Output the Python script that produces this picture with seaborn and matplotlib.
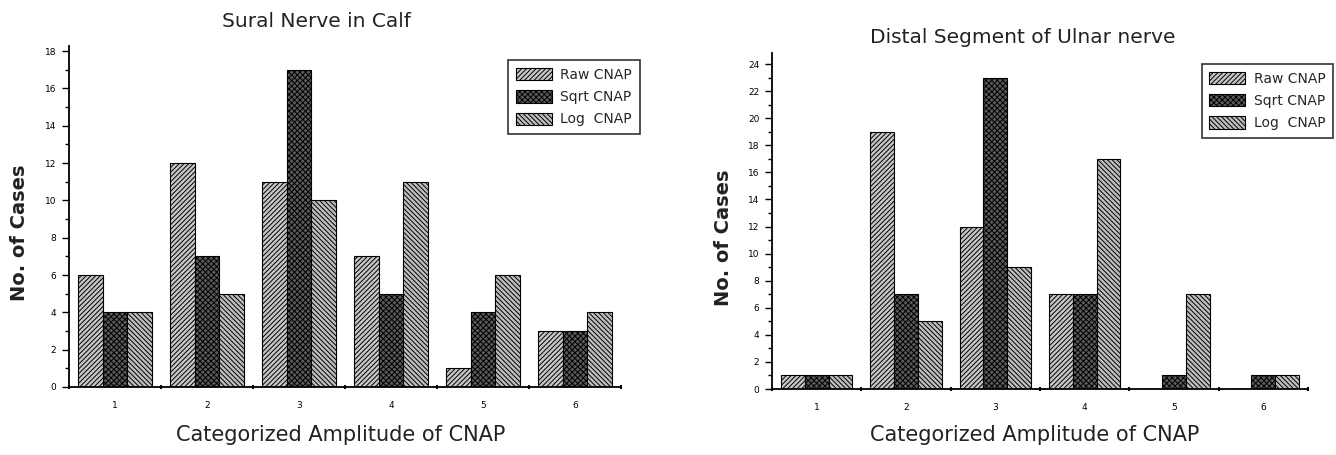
import numpy as np
import pandas as pd
import matplotlib
matplotlib.use("Agg")
import matplotlib.pyplot as plt
import seaborn as sns
from matplotlib.patches import Patch
from matplotlib.ticker import MultipleLocator, FixedLocator

# ---- data ----
categories = ["1", "2", "3", "4", "5", "6"]
series = ["Raw CNAP", "Sqrt CNAP", "Log  CNAP"]

sural_raw = [6, 12, 11, 7, 1, 3]
sural_sqrt = [4, 7, 17, 5, 4, 3]
sural_log = [4, 5, 10, 11, 6, 4]

ulnar_raw = [1, 19, 12, 7, 0, 0]
ulnar_sqrt = [1, 7, 23, 7, 1, 1]
ulnar_log = [1, 5, 9, 17, 7, 1]

titles = ["Sural Nerve in Calf", "Distal Segment of Ulnar nerve"]
xlabel = "Categorized Amplitude of CNAP"
ylabel = "No. of Cases"

# ---- style ----
sns.set_theme(style="ticks")
plt.rcParams['font.family'] = ['DejaVu Sans']
plt.rcParams['hatch.linewidth'] = 0.7
plt.rcParams['axes.edgecolor'] = 'black'
plt.rcParams['xtick.color'] = 'black'
plt.rcParams['ytick.color'] = 'black'

faces = ['#c6c6c6', '#5a5a5a', '#bebebe']
hatches = ['///////', 'xxxxxx', '\\\\\\\\\\\\\\']

fig = plt.figure(figsize=(13.36, 4.55), dpi=100)
ax1 = fig.add_axes([0.0516, 0.1495, 0.4132, 0.7505])
ax2 = fig.add_axes([0.5778, 0.145, 0.4012, 0.738])


def draw(ax, raw, sqrt, log, title, ytop, ymax, title_xy, xlab_xy, ylab_xy, leg_anchor):
    df = pd.DataFrame({
        "cat": categories * 3,
        "series": np.repeat(series, len(categories)),
        "n": raw + sqrt + log,
    })
    sns.barplot(data=df, x="cat", y="n", hue="series", order=categories,
                hue_order=series, palette=faces, saturation=1, ax=ax,
                edgecolor='black', linewidth=0.8, width=0.8, legend=False)
    for cont, h in zip(ax.containers, hatches):
        for p in cont:
            p.set_hatch(h)
    ax.set_xlim(-0.5, len(categories) - 0.5)
    ax.set_ylim(0, ymax)
    ax.yaxis.set_major_locator(FixedLocator(np.arange(0, ytop + 1, 2)))
    ax.yaxis.set_minor_locator(MultipleLocator(1))
    ax.xaxis.set_minor_locator(FixedLocator(np.arange(-0.5, len(categories), 1)))
    ax.tick_params(axis='y', which='major', length=5, width=1, labelsize=6.5, pad=4, direction='out')
    ax.tick_params(axis='y', which='minor', length=3, width=1, direction='out')
    ax.tick_params(axis='x', which='major', length=0, labelsize=6.5, pad=10)
    ax.tick_params(axis='x', which='minor', length=3, width=1.5, direction='inout')
    for s in ['top', 'right']:
        ax.spines[s].set_visible(False)
    for s in ['left', 'bottom']:
        ax.spines[s].set_linewidth(1.3)
    ax.set_title(title, fontsize=14.5, x=title_xy[0], y=title_xy[1], va='center',
                 pad=0, color='#222222')
    ax.set_xlabel(xlabel, fontsize=15, va='center', color='#222222')
    ax.xaxis.set_label_coords(*xlab_xy)
    ax.set_ylabel(ylabel, fontsize=14, fontweight='bold', va='center', color='#222222')
    ax.yaxis.set_label_coords(*ylab_xy)
    handles = [Patch(facecolor=f, edgecolor='black', hatch=h, linewidth=0.8, label=s)
               for f, h, s in zip(faces, hatches, series)]
    leg = ax.legend(handles=handles, loc='upper right', bbox_to_anchor=leg_anchor,
                    fontsize=10, frameon=True, fancybox=False, edgecolor='black',
                    handlelength=2.6, handleheight=1.0, handletextpad=0.6,
                    labelspacing=0.6, borderpad=0.55, borderaxespad=0)
    leg.get_frame().set_linewidth(1.2)


draw(ax1, sural_raw, sural_sqrt, sural_log, titles[0], 18, 18.3,
     (0.449, 1.07), (0.493, -0.14), (-0.09, 0.451), (1.034, 0.957))
draw(ax2, ulnar_raw, ulnar_sqrt, ulnar_log, titles[1], 24, 24.8,
     (0.468, 1.048), (0.49, -0.137), (-0.09, 0.45), (1.047, 0.968))

fig.savefig("out.png", dpi=100)
